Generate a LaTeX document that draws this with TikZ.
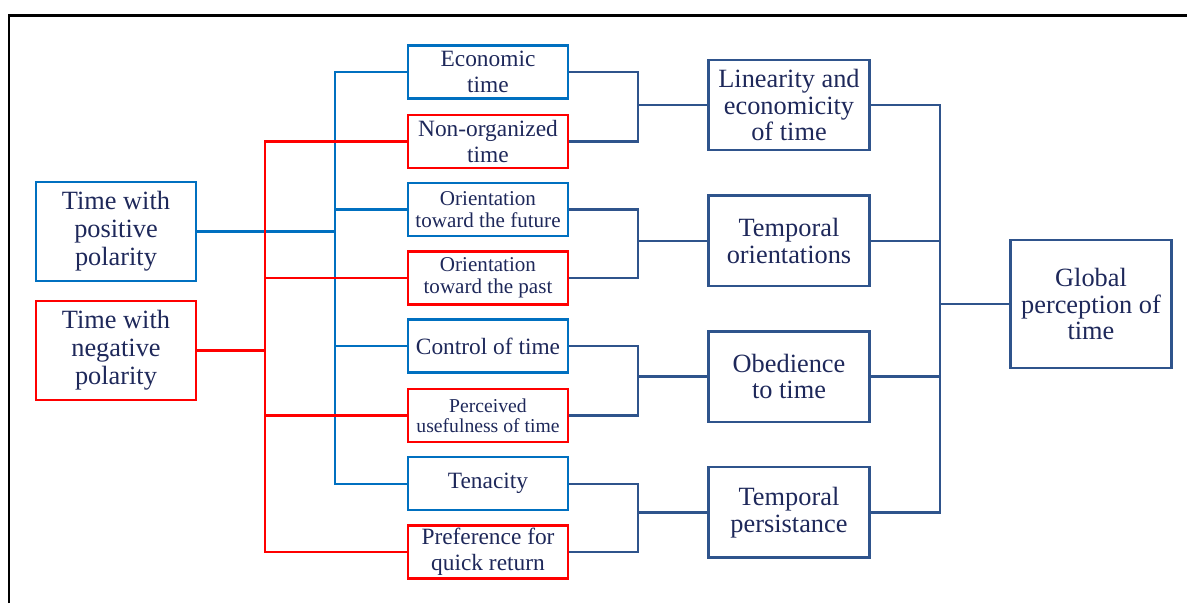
\documentclass[tikz,border=0pt]{standalone}
\usepackage{fontspec}
\setmainfont{Liberation Serif}
\usepackage{tikz}
\usetikzlibrary{positioning,calc}
\definecolor{posblue}{RGB}{0,112,192}
\definecolor{negred}{RGB}{255,0,0}
\definecolor{navy}{RGB}{47,84,140}
\definecolor{inkblue}{RGB}{30,40,90}
\tikzset{
	factor/.style={rectangle,draw,line width=1.4pt,text=inkblue,align=center,inner sep=1pt},
	polarity/.style={factor,minimum width=3.2cm,minimum height=1.98cm,font=\fontsize{15}{16}\selectfont},
	facet/.style={factor,minimum width=3.2cm,minimum height=1.06cm,font=\fontsize{13.3}{14.8}\selectfont},
	dimension/.style={factor,draw=navy,minimum width=3.22cm,minimum height=1.81cm,font=\fontsize{15}{15.2}\selectfont},
	bluewire/.style={draw=posblue,line width=1.4pt},
	redwire/.style={draw=negred,line width=1.4pt},
	navywire/.style={draw=navy,line width=1.4pt}}

\begin{document}
\begin{tikzpicture}[x=0.02cm,y=-0.02cm,node distance=1.366cm,on grid]
	
	\useasboundingbox (0,0) rectangle (1187,603);
	\draw[line width=1.7pt] (9,603) -- (9,15) -- (1187,15);
	
	% polarities
	\node[polarity, draw=posblue] at (116,231.5) (pos) {Time with\\positive\\polarity};
	\node[polarity, draw=negred] at (116,350.5) (neg) {Time with\\negative\\polarity};
	
	% facets
	\node[facet, draw=posblue] at (488,72) (econ) {Economic\\time};
	\node[facet, draw=negred][below of = econ, yshift=-0.02cm] (nonorg) {Non-organized\\time};
	\node[facet, draw=posblue, font=\fontsize{12}{12.5}\selectfont][below of = nonorg] (fut) {Orientation\\toward the future};
	\node[facet, draw=negred, font=\fontsize{12}{12.5}\selectfont][below of = fut] (past) {Orientation\\toward the past};
	\node[facet, draw=posblue][below of = past] (ctrl) {Control of time};
	\node[facet, draw=negred, font=\fontsize{11.2}{11.4}\selectfont][below of = ctrl, yshift=-0.02cm] (perc) {Perceived\\usefulness of time};
	\node[facet, draw=posblue][below of = perc] (tena) {Tenacity};
	\node[facet, draw=negred][below of = tena] (pref) {Preference for\\quick return};
	
	% dimensions
	\node[dimension] at (789,105) (lin) {Linearity and\\economicity\\of time};
	\node[dimension][below of = lin, yshift=-1.35cm] (torient) {Temporal\\orientations};
	\node[dimension][below of = torient, yshift=-1.35cm] (obed) {Obedience\\to time};
	\node[dimension][below of = obed, yshift=-1.35cm] (persist) {Temporal\\persistance};
	
	\node[dimension, minimum height=2.57cm] at (1091,304) (global) {Global\\perception of\\time};
	
	\coordinate (bt) at (335,0);
	\coordinate (rt) at (265,0);
	\coordinate (b1) at (638,0);
	\coordinate (b2) at (940,0);
	
	% positive side
	\draw[bluewire] (econ.west) -- (econ.west -| bt) -- (tena.west -| bt) -- (tena.west);
	\draw[bluewire] (fut.west) -- (fut.west -| bt);
	\draw[bluewire] (ctrl.west) -- (ctrl.west -| bt);
	\draw[bluewire] (pos.east) -- (pos.east -| bt);
	
	% negative side
	\draw[redwire] (nonorg.west) -- (nonorg.west -| rt) -- (pref.west -| rt) -- (pref.west);
	\draw[redwire] (past.west) -- (past.west -| rt);
	\draw[redwire] (perc.west) -- (perc.west -| rt);
	\draw[redwire] (neg.east) -- (neg.east -| rt);
	
	% facets to dimensions
	\foreach \a/\b/\c in {econ/nonorg/lin, fut/past/torient, ctrl/perc/obed, tena/pref/persist}{
		\draw[navywire] (\a.east) -- (\a.east -| b1) -- (\b.east -| b1) -- (\b.east);
		\draw[navywire] (\c.west) -- (\c.west -| b1);
	}
	
	% dimensions to global
	\draw[navywire] (lin.east) -- (lin.east -| b2) -- (persist.east -| b2) -- (persist.east);
	\draw[navywire] (torient.east) -- (torient.east -| b2);
	\draw[navywire] (obed.east) -- (obed.east -| b2);
	\draw[navywire] (global.west) -- (global.west -| b2);
	
\end{tikzpicture}
\end{document}
